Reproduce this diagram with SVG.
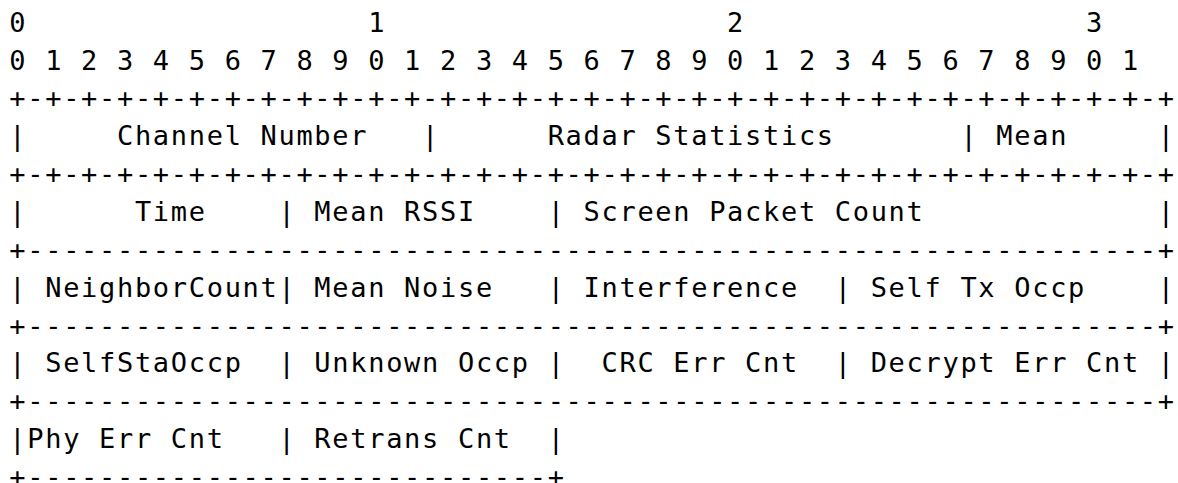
<svg xmlns="http://www.w3.org/2000/svg" width="1178" height="483" viewBox="0 0 1178 483">
<style>
text{font-family:"DejaVu Sans Mono","Liberation Mono",monospace;font-size:27px;letter-spacing:1.69px;fill:#000;white-space:pre}
</style>
<rect width="1178" height="483" fill="#fff"/>
<g id="ruler">
<text x="9.3" y="31.7" xml:space="preserve">0                   1                   2                   3</text>
<text x="9.3" y="69.55" xml:space="preserve">0 1 2 3 4 5 6 7 8 9 0 1 2 3 4 5 6 7 8 9 0 1 2 3 4 5 6 7 8 9 0 1</text>
</g>
<g id="row1">
<text x="9.3" y="107.4" xml:space="preserve">+-+-+-+-+-+-+-+-+-+-+-+-+-+-+-+-+-+-+-+-+-+-+-+-+-+-+-+-+-+-+-+-+</text>
<text x="9.3" y="145.25" xml:space="preserve">|     Channel Number   |      Radar Statistics       | Mean     |</text>
</g>
<g id="row2">
<text x="9.3" y="183.1" xml:space="preserve">+-+-+-+-+-+-+-+-+-+-+-+-+-+-+-+-+-+-+-+-+-+-+-+-+-+-+-+-+-+-+-+-+</text>
<text x="9.3" y="220.95" xml:space="preserve">|      Time    | Mean RSSI    | Screen Packet Count             |</text>
</g>
<g id="row3">
<text x="9.3" y="258.8" xml:space="preserve">+---------------------------------------------------------------+</text>
<text x="9.3" y="296.65" xml:space="preserve">| NeighborCount| Mean Noise   | Interference  | Self Tx Occp    |</text>
</g>
<g id="row4">
<text x="9.3" y="334.5" xml:space="preserve">+---------------------------------------------------------------+</text>
<text x="9.3" y="372.35" xml:space="preserve">| SelfStaOccp  | Unknown Occp |  CRC Err Cnt  | Decrypt Err Cnt |</text>
</g>
<g id="row5">
<text x="9.3" y="410.2" xml:space="preserve">+---------------------------------------------------------------+</text>
<text x="9.3" y="448.05" xml:space="preserve">|Phy Err Cnt   | Retrans Cnt  |</text>
<text x="9.3" y="485.9" xml:space="preserve">+-----------------------------+</text>
</g>
</svg>
